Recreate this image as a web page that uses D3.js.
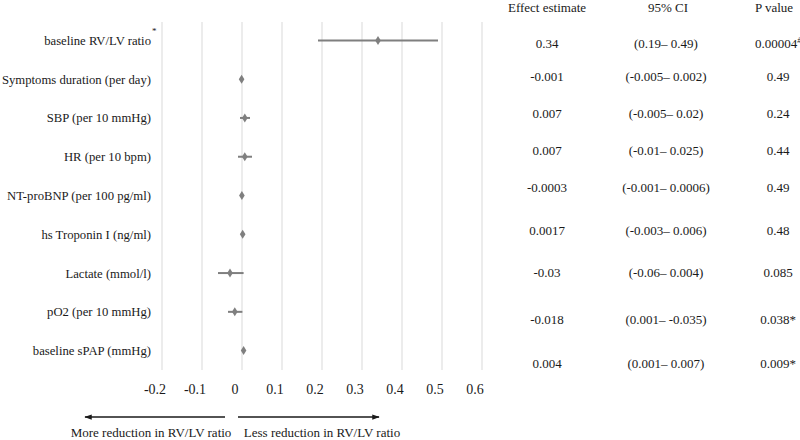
<!DOCTYPE html>
<html>
<head>
<meta charset="utf-8">
<script src="https://cdn.jsdelivr.net/npm/d3@7"></script>
<style>
  html, body { margin: 0; padding: 0; background: #fff; }
  svg text { font-family: "Liberation Serif", "Times New Roman", Tinos, "DejaVu Serif", serif; }
</style>
</head>
<body>
<svg id="chart" width="800" height="440"></svg>
<script>
// ---- data ----
const variables = [
  "baseline RV/LV ratio",
  "Symptoms duration (per day)",
  "SBP (per 10 mmHg)",
  "HR (per 10 bpm)",
  "NT-proBNP (per 100 pg/ml)",
  "hs Troponin I (ng/ml)",
  "Lactate (mmol/l)",
  "pO2 (per 10 mmHg)",
  "baseline sPAP (mmHg)"
];
const estimates = [0.34, -0.001, 0.007, 0.007, -0.0003, 0.0017, -0.03, -0.018, 0.004];
const ciLower   = [0.19, -0.005, -0.005, -0.01, -0.001, -0.003, -0.06, -0.035, 0.001];
const ciUpper   = [0.49, 0.002, 0.02, 0.025, 0.0006, 0.006, 0.004, 0.001, 0.007];
const estimateText = ["0.34", "-0.001", "0.007", "0.007", "-0.0003", "0.0017", "-0.03", "-0.018", "0.004"];
const ciText = ["(0.19\u2013 0.49)", "(-0.005\u2013 0.002)", "(-0.005\u2013 0.02)", "(-0.01\u2013 0.025)",
                "(-0.001\u2013 0.0006)", "(-0.003\u2013 0.006)", "(-0.06\u2013 0.004)", "(0.001\u2013 -0.035)",
                "(0.001\u2013 0.007)"];
const pText = ["0.00004", "0.49", "0.24", "0.44", "0.49", "0.48", "0.085", "0.038*", "0.009*"];
const pSup  = ["#", "", "", "", "", "", "", "", ""];
const xTicks = [-0.2, -0.1, 0, 0.1, 0.2, 0.3, 0.4, 0.5, 0.6];
const xTickLabels = ["-0.2", "-0.1", "0", "0.1", "0.2", "0.3", "0.4", "0.5", "0.6"];
const tableHeaders = ["Effect estimate", "95% CI", "P value"];
const arrowLabels = ["More reduction in RV/LV ratio", "Less reduction in RV/LV ratio"];

// ---- layout ----
const tableRowY = [43, 76, 113, 150, 187, 230, 272, 319, 363];
const tableColX = [547, 666, 778];
const headerX = [547, 668, 774];

const svg = d3.select("#chart");
const x = d3.scaleLinear().domain([-0.2, 0.6]).range([162, 482]);
const y = d3.scaleBand().domain(variables).range([21, 370]).paddingInner(0).paddingOuter(0);
const yc = d => y(d) + y.bandwidth() / 2;

const grey = "#7f7f7f";
const ink = "#1a1a1a";

// gridlines
svg.append("g").selectAll("line").data(xTicks).join("line")
  .attr("x1", d => x(d)).attr("x2", d => x(d))
  .attr("y1", 22).attr("y2", 370)
  .attr("stroke", "#d9d9d9").attr("stroke-width", 1);

// tick labels
svg.append("g").selectAll("text").data(xTicks).join("text")
  .attr("x", d => x(d) - 7).attr("y", 394)
  .attr("text-anchor", "middle")
  .attr("font-size", 14).attr("fill", ink)
  .text((d, i) => xTickLabels[i]);

// row labels
const labG = svg.append("g");
labG.selectAll("text").data(variables).join("text")
  .attr("x", 151).attr("y", d => yc(d)).attr("dy", "0.35em")
  .attr("text-anchor", "end").attr("font-size", 12.7).attr("fill", ink)
  .text(d => d);
labG.append("text").attr("x", 152).attr("y", yc(variables[0]) - 6)
  .attr("font-size", 9).attr("fill", ink).text("*");

// CI lines
const rows = variables.map((v, i) => ({v, est: estimates[i], lo: ciLower[i], hi: ciUpper[i]}));
svg.append("g").selectAll("line").data(rows).join("line")
  .attr("x1", d => x(d.lo)).attr("x2", d => x(d.hi))
  .attr("y1", d => yc(d.v)).attr("y2", d => yc(d.v))
  .attr("stroke", grey).attr("stroke-width", 2);

// diamond markers
svg.append("g").selectAll("path").data(rows).join("path")
  .attr("transform", d => `translate(${x(d.est)},${yc(d.v)})`)
  .attr("d", "M0,-4.5L2.8,0L0,4.5L-2.8,0Z")
  .attr("fill", grey);

// table headers
svg.append("g").selectAll("text").data(tableHeaders).join("text")
  .attr("x", (d, i) => headerX[i]).attr("y", 12)
  .attr("text-anchor", "middle").attr("font-size", 13).attr("fill", ink)
  .text(d => d);

// table columns
const tg = svg.append("g").attr("font-size", 13).attr("fill", ink).attr("text-anchor", "middle");
tg.selectAll("text.est").data(estimateText).join("text").attr("class", "est")
  .attr("x", tableColX[0]).attr("y", (d, i) => tableRowY[i]).attr("dy", "0.35em").text(d => d);
tg.selectAll("text.ci").data(ciText).join("text").attr("class", "ci")
  .attr("x", tableColX[1]).attr("y", (d, i) => tableRowY[i]).attr("dy", "0.35em").text(d => d);
const pt = tg.selectAll("text.p").data(pText).join("text").attr("class", "p")
  .attr("x", tableColX[2]).attr("y", (d, i) => tableRowY[i]).attr("dy", "0.35em");
pt.append("tspan").text(d => d);
pt.append("tspan").attr("font-size", 8).attr("dy", "-0.6em").attr("font-style", "italic")
  .text((d, i) => pSup[i]);

// arrows
const defs = svg.append("defs");
defs.append("marker").attr("id", "ah").attr("viewBox", "0 0 10 10")
  .attr("refX", 9).attr("refY", 5).attr("markerWidth", 5).attr("markerHeight", 5)
  .attr("orient", "auto-start-reverse")
  .append("path").attr("d", "M0,1.5L10,5L0,8.5Z").attr("fill", ink);

svg.append("line").attr("x1", 225).attr("x2", 85).attr("y1", 417).attr("y2", 417)
  .attr("stroke", ink).attr("stroke-width", 1.5).attr("marker-end", "url(#ah)");
svg.append("line").attr("x1", 238).attr("x2", 379).attr("y1", 417).attr("y2", 417)
  .attr("stroke", ink).attr("stroke-width", 1.5).attr("marker-end", "url(#ah)");

svg.append("text").attr("x", 151).attr("y", 437).attr("text-anchor", "middle")
  .attr("font-size", 13).attr("fill", ink).text(arrowLabels[0]);
svg.append("text").attr("x", 322).attr("y", 437).attr("text-anchor", "middle")
  .attr("font-size", 13).attr("fill", ink).text(arrowLabels[1]);
</script>
</body>
</html>
